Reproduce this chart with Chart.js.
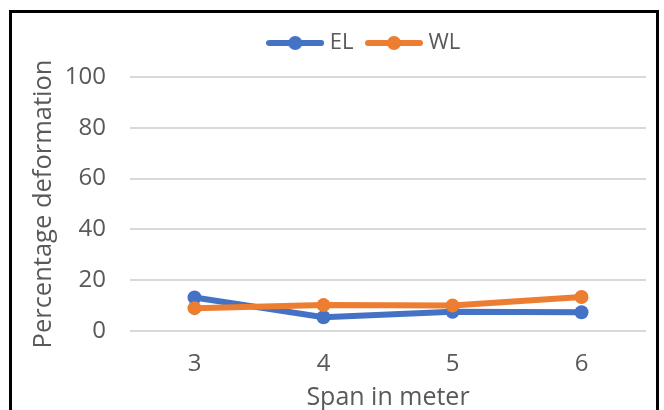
<!DOCTYPE html>
<html>
<head>
<meta charset="utf-8">
<script src="https://cdn.jsdelivr.net/npm/chart.js@4/dist/chart.umd.min.js"></script>
<style>
  html, body { margin: 0; padding: 0; background: #fff; overflow: hidden; }
  #wrap { position: relative; width: 664px; height: 410px; }
  #frame { position: absolute; left: 9px; top: 10px; width: 650px; height: 420px; border: 3px solid #000; box-sizing: border-box; pointer-events: none; }
  canvas { position: absolute; left: 0; top: 0; }
</style>
</head>
<body>
<div id="wrap">
  <canvas id="c" width="664" height="410"></canvas>
  <div id="frame"></div>
</div>
<script>
const categories = ['3', '4', '5', '6'];
const elValues = [13.2, 5.4, 7.6, 7.4];
const wlValues = [9, 10.2, 10, 13.4];
const seriesNames = ['EL', 'WL'];
const yTicks = [0, 20, 40, 60, 80, 100];
const xTitle = 'Span in meter';
const yTitle = 'Percentage deformation';

const FONT = "'Open Sans', 'Liberation Sans', sans-serif";
const TEXT = '#595959';
const colors = ['#4472C4', '#ED7D31'];

function legendIcon(color) {
  const c = document.createElement('canvas');
  c.width = 58; c.height = 16;
  const x = c.getContext('2d');
  x.strokeStyle = color; x.lineWidth = 6; x.lineCap = 'round';
  x.beginPath(); x.moveTo(3, 8); x.lineTo(55, 8); x.stroke();
  x.fillStyle = color;
  x.beginPath(); x.arc(29, 8, 7, 0, Math.PI * 2); x.fill();
  return c;
}
const icons = colors.map(legendIcon);

const legendPlacement = {
  id: 'legendPlacement',
  beforeInit(chart) {
    const lg = chart.legend;
    if (!lg) return;
    const orig = lg.fit;
    lg.fit = function () { orig.call(this); this.height = 62; };
  },
  afterLayout(chart) {
    const lg = chart.legend;
    lg.left = 86; lg.right = 646; lg.width = lg.right - lg.left;
  }
};

new Chart(document.getElementById('c'), {
  type: 'line',
  data: {
    labels: categories,
    datasets: [
      { label: seriesNames[0], data: elValues, borderColor: colors[0], backgroundColor: colors[0],
        borderWidth: 6, pointRadius: 7, pointBorderWidth: 0, pointBackgroundColor: colors[0], pointBorderColor: colors[0], order: 2 },
      { label: seriesNames[1], data: wlValues, borderColor: colors[1], backgroundColor: colors[1],
        borderWidth: 6, pointRadius: 7, pointBorderWidth: 0, pointBackgroundColor: colors[1], pointBorderColor: colors[1], order: 1 }
    ]
  },
  options: {
    responsive: false,
    animation: false,
    devicePixelRatio: 1,
    layout: { padding: { top: 15, left: 0, right: 18, bottom: 0 } },
    plugins: {
      tooltip: { enabled: false },
      legend: {
        position: 'top',
        labels: {
          usePointStyle: true,
          pointStyleWidth: 47,
          padding: 17,
          color: TEXT,
          font: { family: FONT, size: 22 },
          sort: (a, b) => a.datasetIndex - b.datasetIndex,
          generateLabels(chart) {
            const items = Chart.defaults.plugins.legend.labels.generateLabels(chart);
            items.forEach(it => { it.pointStyle = icons[it.datasetIndex]; });
            return items;
          }
        }
      }
    },
    scales: {
      x: {
        type: 'category',
        offset: true,
        grid: { display: false, drawTicks: false },
        border: { display: false },
        ticks: { color: TEXT, font: { family: FONT, size: 24 }, padding: 19, maxRotation: 0 },
        title: { display: true, text: xTitle, color: TEXT, font: { family: FONT, size: 25 }, padding: { top: 0, bottom: -3 } },
        afterFit(s) { s.height = 79; }
      },
      y: {
        min: 0, max: 100,
        afterBuildTicks(s) { s.ticks = yTicks.map(v => ({ value: v })); },
        grid: { color: '#d9d9d9', lineWidth: 2, drawTicks: false },
        border: { display: false },
        ticks: { color: TEXT, font: { family: FONT, size: 24 }, padding: 24 },
        title: { display: true, text: yTitle, color: TEXT, font: { family: FONT, size: 25.5 }, padding: { top: 28, bottom: 0 } },
        afterFit(s) { s.width = 130; }
      }
    }
  },
  plugins: [legendPlacement]
});
</script>
</body>
</html>
